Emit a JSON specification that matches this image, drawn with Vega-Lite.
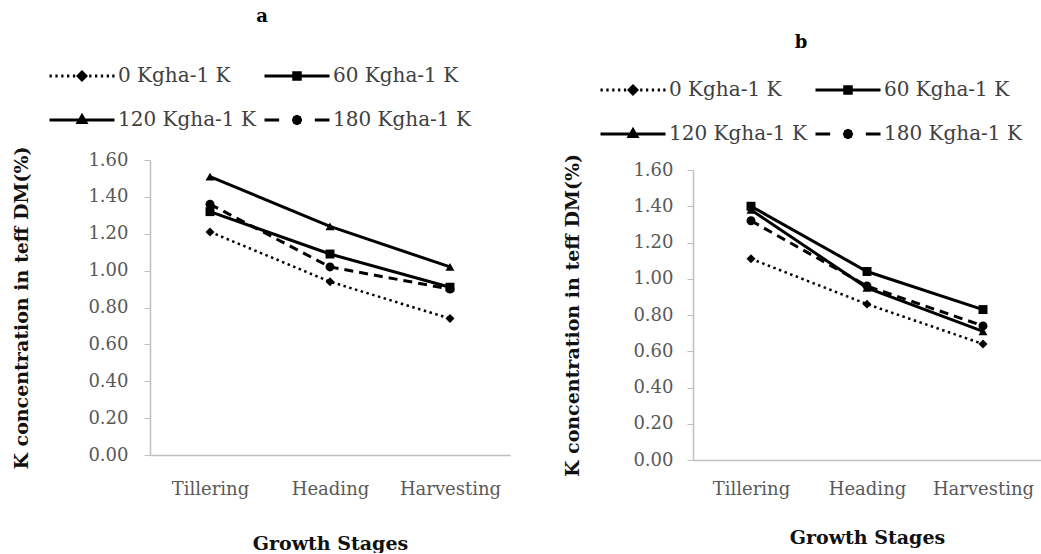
{
  "$schema": "https://vega.github.io/schema/vega-lite/v6.json",
  "background": "white",
  "padding": {"left": 12, "top": 8, "right": 0, "bottom": 0},
  "datasets": {
    "k": [
      {"panel": "a", "stage": "Tillering", "treatment": "0 Kgha-1 K", "value": 1.21},
      {"panel": "a", "stage": "Heading", "treatment": "0 Kgha-1 K", "value": 0.94},
      {"panel": "a", "stage": "Harvesting", "treatment": "0 Kgha-1 K", "value": 0.74},
      {"panel": "a", "stage": "Tillering", "treatment": "60 Kgha-1 K", "value": 1.32},
      {"panel": "a", "stage": "Heading", "treatment": "60 Kgha-1 K", "value": 1.09},
      {"panel": "a", "stage": "Harvesting", "treatment": "60 Kgha-1 K", "value": 0.91},
      {"panel": "a", "stage": "Tillering", "treatment": "120 Kgha-1 K", "value": 1.51},
      {"panel": "a", "stage": "Heading", "treatment": "120 Kgha-1 K", "value": 1.24},
      {"panel": "a", "stage": "Harvesting", "treatment": "120 Kgha-1 K", "value": 1.02},
      {"panel": "a", "stage": "Tillering", "treatment": "180 Kgha-1 K", "value": 1.36},
      {"panel": "a", "stage": "Heading", "treatment": "180 Kgha-1 K", "value": 1.02},
      {"panel": "a", "stage": "Harvesting", "treatment": "180 Kgha-1 K", "value": 0.90},
      {"panel": "b", "stage": "Tillering", "treatment": "0 Kgha-1 K", "value": 1.11},
      {"panel": "b", "stage": "Heading", "treatment": "0 Kgha-1 K", "value": 0.86},
      {"panel": "b", "stage": "Harvesting", "treatment": "0 Kgha-1 K", "value": 0.64},
      {"panel": "b", "stage": "Tillering", "treatment": "60 Kgha-1 K", "value": 1.40},
      {"panel": "b", "stage": "Heading", "treatment": "60 Kgha-1 K", "value": 1.04},
      {"panel": "b", "stage": "Harvesting", "treatment": "60 Kgha-1 K", "value": 0.83},
      {"panel": "b", "stage": "Tillering", "treatment": "120 Kgha-1 K", "value": 1.38},
      {"panel": "b", "stage": "Heading", "treatment": "120 Kgha-1 K", "value": 0.95},
      {"panel": "b", "stage": "Harvesting", "treatment": "120 Kgha-1 K", "value": 0.71},
      {"panel": "b", "stage": "Tillering", "treatment": "180 Kgha-1 K", "value": 1.32},
      {"panel": "b", "stage": "Heading", "treatment": "180 Kgha-1 K", "value": 0.96},
      {"panel": "b", "stage": "Harvesting", "treatment": "180 Kgha-1 K", "value": 0.74}
    ]
  },
  "data": {"name": "k"},
  "spacing": 53,
  "resolve": {"scale": {"shape": "independent"}, "legend": {"shape": "independent"}},
  "hconcat": [
    {
      "width": 360,
      "height": 295,
      "title": {"text": "a", "dx": -68, "offset": 16},
      "transform": [{"filter": "datum.panel === 'a'"}],
      "encoding": {
        "x": {"field": "stage", "type": "nominal", "sort": ["Tillering", "Heading", "Harvesting"],
              "scale": {"type": "point", "padding": 0.5},
              "axis": {"title": "Growth Stages", "labelAngle": 0, "ticks": false, "labelPadding": 25, "titlePadding": 36}},
        "y": {"field": "value", "type": "quantitative",
              "scale": {"domain": [0, 1.6]},
              "axis": {"title": "K concentration in teff DM(%)", "values": [0, 0.2, 0.4, 0.6, 0.8, 1.0, 1.2, 1.4, 1.6], "format": ".2f", "labelPadding": 16, "titlePadding": 56}}
      },
      "layer": [
        {"transform": [{"filter": "datum.treatment === '0 Kgha-1 K'"}],
         "mark": {"type": "line", "color": "black", "strokeWidth": 2.5, "strokeDash": [2.5, 3.5],
                  "point": {"filled": true, "color": "black", "size": 80, "shape": "diamond"}}},
        {"transform": [{"filter": "datum.treatment === '60 Kgha-1 K'"}],
         "mark": {"type": "line", "color": "black", "strokeWidth": 3,
                  "point": {"filled": true, "color": "black", "size": 80, "shape": "square"}}},
        {"transform": [{"filter": "datum.treatment === '120 Kgha-1 K'"}],
         "mark": {"type": "line", "color": "black", "strokeWidth": 3,
                  "point": {"filled": true, "color": "black", "size": 80, "shape": "triangle-up"}}},
        {"transform": [{"filter": "datum.treatment === '180 Kgha-1 K'"}],
         "mark": {"type": "line", "color": "black", "strokeWidth": 3, "strokeDash": [9, 6],
                  "point": {"filled": true, "color": "black", "size": 80, "shape": "circle"}}},
        {"mark": {"type": "point", "filled": false, "color": "black", "fillOpacity": 0, "strokeOpacity": 0},
         "encoding": {"shape": {"field": "treatment", "type": "nominal",
           "scale": {"domain": ["0 Kgha-1 K", "60 Kgha-1 K", "120 Kgha-1 K", "180 Kgha-1 K"],
                     "range": [
                       "M-1,0L-0.93,0M-0.82,0L-0.75,0M-0.64,0L-0.57,0M-0.46,0L-0.39,0M-0.28,0L-0.21,0M0.22,0L0.29,0M0.4,0L0.47,0M0.58,0L0.65,0M0.76,0L0.83,0M0.93,0L1,0M0,-0.12L0.12,0L0,0.12L-0.12,0ZM0,-0.05L0.05,0L0,0.05L-0.05,0Z",
                       "M-1,0L1,0M-0.1,-0.1L0.1,-0.1L0.1,0.1L-0.1,0.1ZM-0.045,-0.045L0.045,-0.045L0.045,0.045L-0.045,0.045Z",
                       "M-1,0L1,0M0,-0.13L0.12,0.08L-0.12,0.08ZM0,-0.04L0.045,0.04L-0.045,0.04Z",
                       "M-1,0L-0.55,0M0.55,0L1,0M-0.11,0L-0.078,-0.078L0,-0.11L0.078,-0.078L0.11,0L0.078,0.078L0,0.11L-0.078,0.078ZM-0.05,0L0,-0.05L0.05,0L0,0.05Z"
                     ]},
           "legend": {"title": null, "orient": "none", "legendX": -102, "legendY": -118, "columns": 2, "direction": "horizontal",
                      "symbolSize": 4225, "symbolStrokeWidth": 3, "symbolFillColor": "black", "symbolStrokeColor": "black",
                      "labelFont": "DejaVu Serif", "labelFontSize": 20, "labelColor": "#404040", "labelOffset": 2, "labelLimit": 300,
                      "columnPadding": 2, "rowPadding": -24,
                      "encode": {"symbols": {"update": {"fillOpacity": {"value": 1}, "strokeOpacity": {"value": 1}, "opacity": {"value": 1}, "fill": {"value": "black"}, "stroke": {"value": "black"}, "strokeWidth": {"value": 3}}}}}}}}
      ]
    },
    {
      "width": 348,
      "height": 300,
      "title": {"text": "b", "dx": -66, "offset": 4},
      "transform": [{"filter": "datum.panel === 'b'"}],
      "encoding": {
        "x": {"field": "stage", "type": "nominal", "sort": ["Tillering", "Heading", "Harvesting"],
              "scale": {"type": "point", "padding": 0.5},
              "axis": {"title": "Growth Stages", "labelAngle": 0, "ticks": false, "labelPadding": 20, "titlePadding": 30}},
        "y": {"field": "value", "type": "quantitative",
              "scale": {"domain": [0, 1.6], "range": [300, 10]},
              "axis": {"title": "K concentration in teff DM(%)", "values": [0, 0.2, 0.4, 0.6, 0.8, 1.0, 1.2, 1.4, 1.6], "format": ".2f", "labelPadding": 14, "titlePadding": 50}}
      },
      "layer": [
        {"transform": [{"filter": "datum.treatment === '0 Kgha-1 K'"}],
         "mark": {"type": "line", "color": "black", "strokeWidth": 2.5, "strokeDash": [2.5, 3.5],
                  "point": {"filled": true, "color": "black", "size": 80, "shape": "diamond"}}},
        {"transform": [{"filter": "datum.treatment === '60 Kgha-1 K'"}],
         "mark": {"type": "line", "color": "black", "strokeWidth": 3,
                  "point": {"filled": true, "color": "black", "size": 80, "shape": "square"}}},
        {"transform": [{"filter": "datum.treatment === '120 Kgha-1 K'"}],
         "mark": {"type": "line", "color": "black", "strokeWidth": 3,
                  "point": {"filled": true, "color": "black", "size": 80, "shape": "triangle-up"}}},
        {"transform": [{"filter": "datum.treatment === '180 Kgha-1 K'"}],
         "mark": {"type": "line", "color": "black", "strokeWidth": 3, "strokeDash": [9, 6],
                  "point": {"filled": true, "color": "black", "size": 80, "shape": "circle"}}},
        {"mark": {"type": "point", "filled": false, "color": "black", "fillOpacity": 0, "strokeOpacity": 0},
         "encoding": {"shape": {"field": "treatment", "type": "nominal",
           "scale": {"domain": ["0 Kgha-1 K", "60 Kgha-1 K", "120 Kgha-1 K", "180 Kgha-1 K"],
                     "range": [
                       "M-1,0L-0.93,0M-0.82,0L-0.75,0M-0.64,0L-0.57,0M-0.46,0L-0.39,0M-0.28,0L-0.21,0M0.22,0L0.29,0M0.4,0L0.47,0M0.58,0L0.65,0M0.76,0L0.83,0M0.93,0L1,0M0,-0.12L0.12,0L0,0.12L-0.12,0ZM0,-0.05L0.05,0L0,0.05L-0.05,0Z",
                       "M-1,0L1,0M-0.1,-0.1L0.1,-0.1L0.1,0.1L-0.1,0.1ZM-0.045,-0.045L0.045,-0.045L0.045,0.045L-0.045,0.045Z",
                       "M-1,0L1,0M0,-0.13L0.12,0.08L-0.12,0.08ZM0,-0.04L0.045,0.04L-0.045,0.04Z",
                       "M-1,0L-0.55,0M0.55,0L1,0M-0.11,0L-0.078,-0.078L0,-0.11L0.078,-0.078L0.11,0L0.078,0.078L0,0.11L-0.078,0.078ZM-0.05,0L0,-0.05L0.05,0L0,0.05Z"
                     ]},
           "legend": {"title": null, "orient": "none", "legendX": -94, "legendY": -104, "columns": 2, "direction": "horizontal",
                      "symbolSize": 4225, "symbolStrokeWidth": 3, "symbolFillColor": "black", "symbolStrokeColor": "black",
                      "labelFont": "DejaVu Serif", "labelFontSize": 20, "labelColor": "#404040", "labelOffset": 2, "labelLimit": 300,
                      "columnPadding": 2, "rowPadding": -25,
                      "encode": {"symbols": {"update": {"fillOpacity": {"value": 1}, "strokeOpacity": {"value": 1}, "opacity": {"value": 1}, "fill": {"value": "black"}, "stroke": {"value": "black"}, "strokeWidth": {"value": 3}}}}}}}}
      ]
    }
  ],
  "config": {
    "view": {"stroke": null},
    "font": "DejaVu Serif",
    "title": {"font": "DejaVu Serif", "fontSize": 18, "fontWeight": "bold", "color": "black", "anchor": "middle"},
    "axis": {
      "grid": false,
      "domainColor": "#bfbfbf",
      "domainWidth": 1.5,
      "tickColor": "#bfbfbf",
      "tickSize": 6,
      "labelFont": "DejaVu Serif",
      "labelFontSize": 18,
      "labelColor": "#595959",
      "titleFont": "DejaVu Serif",
      "titleFontSize": 19,
      "titleFontWeight": "bold",
      "titleColor": "#111111"
    }
  }
}
